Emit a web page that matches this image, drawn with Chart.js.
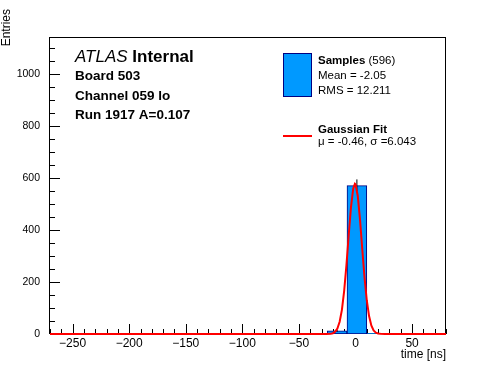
<!DOCTYPE html>
<html>
<head>
<meta charset="utf-8">
<script src="https://cdn.jsdelivr.net/npm/chart.js@4.4.0/dist/chart.umd.min.js"></script>
<style>
  html, body { margin: 0; padding: 0; background: #fff; }
  canvas { display: block; }
</style>
</head>
<body>
<canvas id="chart" width="496" height="372"></canvas>
<script>
// histogram bins (width 17.5 ns, from -270 to 80)
const binCenters = [-261.25, -243.75, -226.25, -208.75, -191.25, -173.75, -156.25, -138.75, -121.25, -103.75,
                    -86.25, -68.75, -51.25, -33.75, -16.25, 1.25, 18.75, 36.25, 53.75, 71.25];
const binCounts  = [0, 0, 0, 0, 0, 0, 0, 0, 0, 0, 0, 0, 0, 0, 12, 571, 3, 0, 0, 0];
const binErrors  = [0, 0, 0, 0, 0, 0, 0, 0, 0, 0, 0, 0, 0, 0, 3.5, 23.9, 1.7, 0, 0, 0];

// gaussian fit curve
const fitX = [-270, -26, -22, -20, -18, -16, -14, -12, -10, -8, -6, -4, -2, -0.5, 0, 2, 4, 6, 8, 10, 12, 14, 16, 18, 20, 22, 26, 80];
const fitY = [0, 0, 0.6, 3, 9, 21, 47, 93, 166, 265, 380, 487, 560, 578, 576, 532, 440, 326, 217, 129, 69, 33, 14, 5, 2, 0.6, 0, 0];

const xTickLabels = [-250, -200, -150, -100, -50, 0, 50];
const yTickLabels = [0, 200, 400, 600, 800, 1000];

const FONT = "'Liberation Sans', Arial, Helvetica, sans-serif";
const fmt = v => (v < 0 ? '\u2212' + Math.abs(v) : String(v));

const errorBarPoints = [];
binCenters.forEach((c, i) => {
  if (binErrors[i] > 0) {
    errorBarPoints.push({ x: c, y: binCounts[i] - binErrors[i] });
    errorBarPoints.push({ x: c, y: binCounts[i] + binErrors[i] });
    errorBarPoints.push({ x: c, y: null });
  }
});

// ROOT-like frame: box, inward ticks (major + minor), then text and legend on top
const frameTicks = {
  id: 'frameTicks',
  beforeDatasetsDraw(chart) {
    const { ctx, chartArea: a, scales: { x, y } } = chart;
    ctx.save();
    ctx.strokeStyle = '#000';
    ctx.lineWidth = 1;
    ctx.strokeRect(Math.round(a.left) - 0.5, Math.round(a.top) + 0.5,
                   Math.round(a.right - a.left), Math.round(a.bottom - a.top) - 1);
    ctx.beginPath();
    for (let v = x.min; v <= x.max; v += 10) {
      const px = Math.round(x.getPixelForValue(v)) + 0.5;
      const len = xTickLabels.includes(v) ? 10 : 5;
      ctx.moveTo(px, a.bottom);
      ctx.lineTo(px, a.bottom - len);
    }
    for (let v = 0; v <= y.max; v += 50) {
      const py = Math.round(y.getPixelForValue(v)) + 0.5;
      const len = yTickLabels.includes(v) ? 10 : 5;
      ctx.moveTo(a.left, py);
      ctx.lineTo(a.left + len, py);
    }
    ctx.stroke();
    ctx.restore();
  },
  afterDraw(chart) {
    const { ctx } = chart;
    ctx.save();
    ctx.fillStyle = '#000';
    // y axis title
    ctx.save();
    ctx.translate(7, 9);
    ctx.rotate(-Math.PI / 2);
    ctx.font = `12px ${FONT}`;
    ctx.textAlign = 'right';
    ctx.textBaseline = 'middle';
    ctx.fillText('Entries', 0, 0);
    ctx.restore();

    ctx.textBaseline = 'middle';
    ctx.textAlign = 'left';
    // label block
    ctx.font = `italic 17px ${FONT}`;
    ctx.fillText('ATLAS', 75, 57);
    const w = ctx.measureText('ATLAS ').width;
    ctx.font = `bold 17px ${FONT}`;
    ctx.fillText('Internal', 75 + w, 57);
    ctx.font = `bold 13.5px ${FONT}`;
    ctx.fillText('Board 503', 75, 76);
    ctx.fillText('Channel 059 lo', 75, 96);
    ctx.fillText('Run 1917 A=0.107', 75, 115);

    // legend
    ctx.fillStyle = '#0099ff';
    ctx.fillRect(283.5, 53.5, 28, 43);
    ctx.strokeStyle = '#000080';
    ctx.lineWidth = 1;
    ctx.strokeRect(283.5, 53.5, 28, 43);
    ctx.strokeStyle = '#ff0000';
    ctx.lineWidth = 2;
    ctx.beginPath();
    ctx.moveTo(283, 136);
    ctx.lineTo(312, 136);
    ctx.stroke();

    ctx.fillStyle = '#000';
    ctx.font = `bold 11.5px ${FONT}`;
    ctx.fillText('Samples', 318, 61);
    const sw = ctx.measureText('Samples ').width;
    ctx.font = `11.5px ${FONT}`;
    ctx.fillText('(596)', 318 + sw, 61);
    ctx.fillText('Mean = -2.05', 318, 76);
    ctx.fillText('RMS = 12.211', 318, 90.5);
    ctx.font = `bold 11.5px ${FONT}`;
    ctx.fillText('Gaussian Fit', 318, 129.5);
    ctx.font = `11.5px ${FONT}`;
    ctx.fillText('\u03bc = -0.46, \u03c3 =6.043', 318, 142);
    ctx.restore();
  }
};

new Chart(document.getElementById('chart'), {
  type: 'bar',
  data: {
    datasets: [
      {
        type: 'line',
        label: 'Gaussian Fit',
        data: fitX.map((x, i) => ({ x, y: fitY[i] })),
        borderColor: '#ff0000',
        borderWidth: 2,
        pointRadius: 0,
        tension: 0,
        fill: false,
        clip: false,
        order: 0
      },
      {
        type: 'line',
        label: 'errors',
        data: errorBarPoints,
        borderColor: '#000',
        borderWidth: 1,
        pointRadius: 0,
        spanGaps: false,
        order: 1
      },
      {
        label: 'Samples',
        data: binCenters.map((x, i) => ({ x, y: binCounts[i] })),
        backgroundColor: '#0099ff',
        borderColor: '#000080',
        borderWidth: 1,
        borderSkipped: false,
        barPercentage: 1,
        categoryPercentage: 1,
        order: 2
      }
    ]
  },
  options: {
    responsive: false,
    animation: false,
    layout: { padding: { top: 37, right: 50, left: 0, bottom: 0 } },
    plugins: { legend: { display: false }, tooltip: { enabled: false } },
    scales: {
      x: {
        type: 'linear',
        min: -270,
        max: 80,
        offset: false,
        grid: { display: false, drawTicks: false },
        border: { display: false },
        afterBuildTicks: s => { s.ticks = xTickLabels.map(v => ({ value: v })); },
        ticks: {
          autoSkip: false,
          maxRotation: 0,
          padding: 2,
          color: '#000',
          font: { family: FONT, size: 12 },
          callback: v => fmt(v)
        },
        title: {
          display: true,
          text: 'time [ns]',
          align: 'end',
          color: '#000',
          font: { family: FONT, size: 12 },
          padding: { top: 10, bottom: 10 }
        },
        afterFit: s => { s.height = 38; }
      },
      y: {
        min: 0,
        max: 1143,
        grid: { display: false, drawTicks: false },
        border: { display: false },
        afterBuildTicks: s => { s.ticks = yTickLabels.map(v => ({ value: v })); },
        ticks: {
          autoSkip: false,
          padding: 10,
          color: '#000',
          font: { family: FONT, size: 10.5 },
          callback: v => String(v)
        },
        afterFit: s => { s.width = 50; }
      }
    }
  },
  plugins: [frameTicks]
});
</script>
</body>
</html>
